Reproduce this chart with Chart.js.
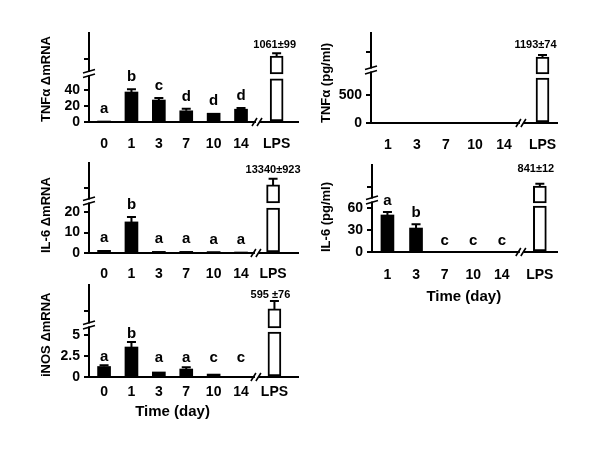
<!DOCTYPE html>
<html>
<head>
<meta charset="utf-8">
<script src="https://cdn.jsdelivr.net/npm/chart.js@4.4.0/dist/chart.umd.min.js"></script>
<style>
  body { margin: 0; background: #fff; }
  #fig { position: relative; width: 600px; height: 451px; }
  #fig canvas { position: absolute; }
</style>
</head>
<body>
<div id="fig">
  <canvas id="tnfMrnaChart"></canvas>
  <canvas id="tnfProtChart"></canvas>
  <canvas id="il6MrnaChart"></canvas>
  <canvas id="il6ProtChart"></canvas>
  <canvas id="inosMrnaChart"></canvas>
</div>
<script>
const FONT = '"Liberation Sans", Arial, sans-serif';

// x categories (days after treatment) + LPS control
const daysMrna = ['0', '1', '3', '7', '10', '14'];
const daysProt = ['1', '3', '7', '10', '14'];

// TNFa mRNA
const tnfMrna = [1, 37.5, 27.5, 14, 11, 16];
const tnfMrnaErr = [0, 3.5, 2.5, 2.5, 0, 1.5];
const tnfMrnaLetters = ['a', 'b', 'c', 'd', 'd', 'd'];
const tnfMrnaLps = [54, 60, 82.5];   // lower part top, upper part bottom, top (broken axis units)
const tnfMrnaLpsErr = 3.5;
const tnfMrnaNote = '1061±99';
const tnfMrnaTicks = [0, 20, 40, 78.75];
const tnfMrnaTickLabels = ['0', '20', '40', ''];

// TNFa protein (pg/ml)
const tnfProt = [0, 0, 0, 0, 0];
const tnfProtErr = [0, 0, 0, 0, 0];
const tnfProtLetters = ['', '', '', '', ''];
const tnfProtLps = [804, 875, 1179];
const tnfProtLpsErr = 35;
const tnfProtNote = '1193±74';
const tnfProtTicks = [0, 500, 1268];
const tnfProtTickLabels = ['0', '500', ''];

// IL-6 mRNA
const il6Mrna = [1.3, 15.2, 0.8, 0.8, 0.7, 0.2];
const il6MrnaErr = [0, 2.4, 0, 0, 0, 0];
const il6MrnaLetters = ['a', 'b', 'a', 'a', 'a', 'a'];
const il6MrnaLps = [22, 24.5, 33.3];
const il6MrnaLpsErr = 3;
const il6MrnaNote = '13340±923';
const il6MrnaTicks = [0, 10, 20, 31.9];
const il6MrnaTickLabels = ['0', '10', '20', ''];

// IL-6 protein (pg/ml)
const il6Prot = [50.5, 32.7, 0, 0, 0];
const il6ProtErr = [4, 5.3, 0, 0, 0];
const il6ProtLetters = ['a', 'b', 'c', 'c', 'c'];
const il6ProtLps = [62.7, 66.8, 90];
const il6ProtLpsErr = 3;
const il6ProtNote = '841±12';
const il6ProtTicks = [0, 30, 60, 88.7];
const il6ProtTickLabels = ['0', '30', '60', ''];

// iNOS mRNA
const inosMrna = [1.25, 3.57, 0.6, 0.95, 0.35, 0];
const inosMrnaErr = [0.15, 0.6, 0, 0.2, 0, 0];
const inosMrnaLetters = ['a', 'b', 'a', 'a', 'c', 'c'];
const inosMrnaLps = [5.36, 5.83, 8.1];
const inosMrnaLpsErr = 0.95;
const inosMrnaNote = '595 ±76';
const inosMrnaTicks = [0, 2.5, 5, 7.86];
const inosMrnaTickLabels = ['0', '2.5', '5', ''];

Chart.defaults.color = '#000';
Chart.defaults.font.family = FONT;

// letters, error bars, axis breaks, LPS value and x title
function makeDecor(p) {
    return {
        id: 'decor',
        afterDraw(chart) {
            const ctx = chart.ctx;
            const xs = chart.scales.x, ys = chart.scales.y;
            const area = chart.chartArea;
            ctx.save();
            ctx.strokeStyle = '#000';
            ctx.fillStyle = '#000';
            ctx.lineWidth = 2;

            const errBar = (x, v, e) => {
                if (!e) return;
                const px = xs.getPixelForValue(x);
                const y0 = ys.getPixelForValue(v);
                const y1 = ys.getPixelForValue(v + e);
                ctx.beginPath();
                ctx.moveTo(px, y0); ctx.lineTo(px, y1);
                ctx.moveTo(px - 4.5, y1); ctx.lineTo(px + 4.5, y1);
                ctx.stroke();
            };
            p.values.forEach((v, i) => errBar(i, v, p.err[i]));
            errBar(p.lpsAt, p.lps[2], p.lpsErr);

            // significance letters
            ctx.font = 'bold 15px ' + FONT;
            ctx.textAlign = 'center';
            ctx.textBaseline = 'alphabetic';
            p.letters.forEach((t, i) => {
                if (!t) return;
                const top = ys.getPixelForValue(p.values[i] + p.err[i]);
                const y = Math.min(top - p.letterPad, area.bottom - p.letterFloor);
                ctx.fillText(t, xs.getPixelForValue(i), y);
            });

            // LPS value
            ctx.font = 'bold 11px ' + FONT;
            ctx.textBaseline = 'middle';
            ctx.fillText(p.note, xs.getPixelForValue(p.lpsAt) + p.noteDx, ys.getPixelForValue(p.noteY));

            // y axis break
            const ax = area.left, by = ys.getPixelForValue(p.breakY);
            ctx.fillStyle = '#fff';
            ctx.fillRect(ax - 3, by - 1.5, 6, 3);
            ctx.lineWidth = 1.6;
            ctx.beginPath();
            ctx.moveTo(ax - 6, by - 0.5); ctx.lineTo(ax + 6, by - 4);
            ctx.moveTo(ax - 6, by + 4); ctx.lineTo(ax + 6, by + 0.5);
            ctx.stroke();

            // x axis break
            const bx = xs.getPixelForValue(p.breakX), ay = area.bottom;
            ctx.fillRect(bx - 2, ay - 2, 4, 4);
            ctx.beginPath();
            ctx.moveTo(bx - 6, ay + 4); ctx.lineTo(bx - 1, ay - 4);
            ctx.moveTo(bx - 1, ay + 4); ctx.lineTo(bx + 4, ay - 4);
            ctx.stroke();

            if (p.xTitle) {
                ctx.fillStyle = '#000';
                ctx.font = 'bold 15px ' + FONT;
                ctx.fillText('Time (day)', xs.getPixelForValue(p.xTitle.at), area.bottom + p.xTitle.dy);
            }
            ctx.restore();
        }
    };
}

function makePanel(p) {
    const canvas = document.getElementById(p.id);
    canvas.width = p.box.w;
    canvas.height = p.box.h;
    canvas.style.left = p.box.left + 'px';
    canvas.style.top = p.box.top + 'px';

    const xPos = p.labels.map((_, i) => i).concat([p.lpsAt]);
    const xLabels = p.labels.concat(['LPS']);
    const lpsStyle = {
        backgroundColor: '#fff', borderColor: '#000', borderWidth: 2,
        borderSkipped: false, barThickness: 13, grouped: false
    };

    return new Chart(canvas, {
        type: 'bar',
        data: {
            datasets: [
                { data: p.values.map((v, i) => ({ x: i, y: v })), backgroundColor: '#000', barThickness: 13, grouped: false },
                Object.assign({ data: [{ x: p.lpsAt, y: [0, p.lps[0]] }] }, lpsStyle),
                Object.assign({ data: [{ x: p.lpsAt, y: [p.lps[1], p.lps[2]] }] }, lpsStyle)
            ]
        },
        options: {
            responsive: false,
            animation: false,
            layout: { padding: p.pad },
            plugins: { legend: { display: false }, tooltip: { enabled: false } },
            scales: {
                x: {
                    type: 'linear', min: p.xMin, max: p.xMax, offset: false,
                    grid: { display: false, drawTicks: false, offset: false },
                    border: { display: true, color: '#000', width: 2 },
                    afterBuildTicks: s => { s.ticks = xPos.map(v => ({ value: v })); },
                    ticks: {
                        autoSkip: false, maxRotation: 0, padding: p.xLabelPad,
                        font: { size: 14, weight: 'bold' },
                        callback: (v, i) => xLabels[i]
                    },
                    afterFit: s => { s.height = p.xHeight; }
                },
                y: {
                    min: 0, max: p.yMax,
                    grid: { display: true, drawOnChartArea: false, drawTicks: true, tickLength: 5, color: '#000', lineWidth: 2 },
                    border: { display: true, color: '#000', width: 2 },
                    afterBuildTicks: s => { s.ticks = p.ticks.map(v => ({ value: v })); },
                    ticks: {
                        autoSkip: false, padding: 4,
                        font: { size: 14, weight: 'bold' },
                        callback: (v, i) => p.tickLabels[i]
                    },
                    title: {
                        display: true, text: p.title, align: 'start',
                        font: { size: 13, weight: 'bold' }, padding: { top: 4, bottom: 4 }
                    },
                    afterFit: s => { s.width = p.yWidth; }
                }
            }
        },
        plugins: [makeDecor(p)]
    });
}

// TNFa mRNA
makePanel({
    id: 'tnfMrnaChart', box: { left: 0, top: 20, w: 310, h: 140 },
    pad: { left: 35, top: 13, right: 12, bottom: 0 }, yWidth: 54, xHeight: 38,
    labels: daysMrna, values: tnfMrna, err: tnfMrnaErr, letters: tnfMrnaLetters,
    lps: tnfMrnaLps, lpsErr: tnfMrnaLpsErr, note: tnfMrnaNote, noteY: 96, noteDx: -2,
    ticks: tnfMrnaTicks, tickLabels: tnfMrnaTickLabels, title: 'TNFα ΔmRNA',
    yMax: 111.25, breakY: 60.6, xMin: -0.55, xMax: 7.08, lpsAt: 6.3, breakX: 5.62,
    letterPad: 8, letterFloor: 8, xLabelPad: 14
});

// TNFa protein
makePanel({
    id: 'tnfProtChart', box: { left: 300, top: 20, w: 300, h: 140 },
    pad: { left: 15, top: 13, right: 43, bottom: 0 }, yWidth: 56, xHeight: 37,
    labels: daysProt, values: tnfProt, err: tnfProtErr, letters: tnfProtLetters,
    lps: tnfProtLps, lpsErr: tnfProtLpsErr, note: tnfProtNote, noteY: 1393, noteDx: -7,
    ticks: tnfProtTicks, tickLabels: tnfProtTickLabels, title: 'TNFα (pg/ml)',
    yMax: 1607, breakY: 946, xMin: -0.586, xMax: 5.83, lpsAt: 5.33, breakX: 4.62,
    letterPad: 8, letterFloor: 8, xLabelPad: 14
});

// IL-6 mRNA
makePanel({
    id: 'il6MrnaChart', box: { left: 0, top: 150, w: 310, h: 140 },
    pad: { left: 35, top: 13, right: 12, bottom: 0 }, yWidth: 54, xHeight: 37,
    labels: daysMrna, values: il6Mrna, err: il6MrnaErr, letters: il6MrnaLetters,
    lps: il6MrnaLps, lpsErr: il6MrnaLpsErr, note: il6MrnaNote, noteY: 40.7, noteDx: 0,
    ticks: il6MrnaTicks, tickLabels: il6MrnaTickLabels, title: 'IL-6 ΔmRNA',
    yMax: 44, breakY: 25.4, xMin: -0.55, xMax: 7.08, lpsAt: 6.17, breakX: 5.58,
    letterPad: 8, letterFloor: 9, xLabelPad: 13
});

// IL-6 protein
makePanel({
    id: 'il6ProtChart', box: { left: 300, top: 150, w: 300, h: 160 },
    pad: { left: 15, top: 15, right: 43, bottom: 0 }, yWidth: 57, xHeight: 58,
    labels: daysProt, values: il6Prot, err: il6ProtErr, letters: il6ProtLetters,
    lps: il6ProtLps, lpsErr: il6ProtLpsErr, note: il6ProtNote, noteY: 113.2, noteDx: -4,
    ticks: il6ProtTicks, tickLabels: il6ProtTickLabels, title: 'IL-6 (pg/ml)',
    yMax: 118.7, breakY: 70.9, xMin: -0.54, xMax: 5.93, lpsAt: 5.33, breakX: 4.7,
    letterPad: 7, letterFloor: 7, xLabelPad: 15, xTitle: { at: 2.67, dy: 45 }
});

// iNOS mRNA
makePanel({
    id: 'inosMrnaChart', box: { left: 0, top: 272, w: 310, h: 150 },
    pad: { left: 35, top: 13, right: 12, bottom: 0 }, yWidth: 54, xHeight: 45,
    labels: daysMrna, values: inosMrna, err: inosMrnaErr, letters: inosMrnaLetters,
    lps: inosMrnaLps, lpsErr: inosMrnaLpsErr, note: inosMrnaNote, noteY: 9.76, noteDx: -4,
    ticks: inosMrnaTicks, tickLabels: inosMrnaTickLabels, title: 'iNOS ΔmRNA',
    yMax: 10.95, breakY: 6.2, xMin: -0.55, xMax: 7.08, lpsAt: 6.22, breakX: 5.58,
    letterPad: 4, letterFloor: 15, xLabelPad: 7, xTitle: { at: 2.5, dy: 35 }
});
</script>
</body>
</html>
